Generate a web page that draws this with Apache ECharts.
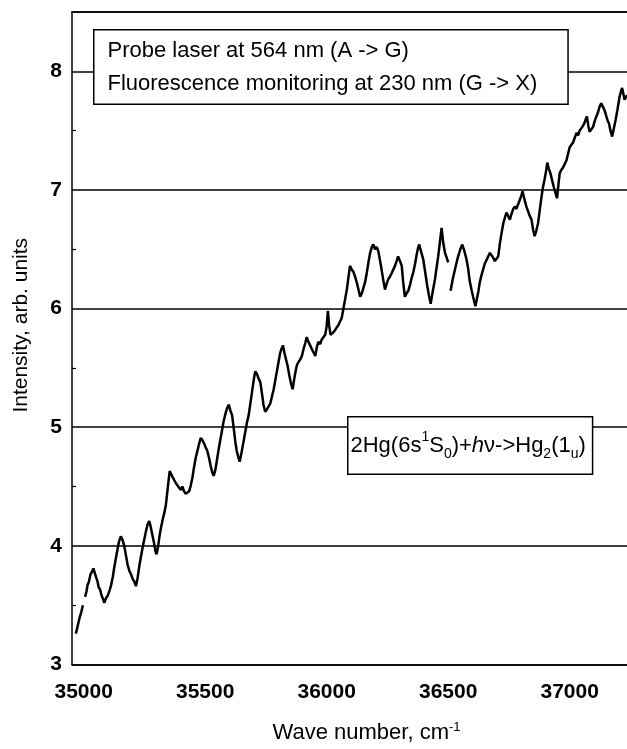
<!DOCTYPE html>
<html>
<head>
<meta charset="utf-8">
<script src="https://cdn.jsdelivr.net/npm/echarts@6/dist/echarts.min.js"></script>
<style>html,body{margin:0;padding:0;background:#fff}#c{width:627px;height:749px}</style>
</head>
<body>
<div id="c"></div>
<script>
// Wave number (cm^-1); null breaks the trace
const waveNumbers = [
34968,34976,34984,34990,34997,35002,
35006,35012,35016,35022,35028,35034,35040,35046,35052,35057,35062,35068,35074,35080,35085,35092,35099,35106,35112,35120,35126,35133,35140,35146,35153,35160,35167,35174,35181,35188,35195,35202,35208,35215,35222,35229,35235,35242,35249,35256,35263,35270,35276,35283,35290,35296,35300,35306,35312,35318,35325,35332,35338,35344,35350,35354,35360,35366,35372,35379,35386,35393,35400,35406,35413,35420,35427,35434,35441,35448,35454,35461,35468,35475,35482,35489,35496,35502,35509,35516,35522,35529,35535,35542,35549,35556,35563,35570,35576,35583,35590,35597,35604,35611,35617,35624,35630,35636,35642,35650,35658,35665,35672,35679,35686,35693,35700,35706,35713,35720,35727,35734,35740,35747,35754,35761,35768,35775,35782,35789,35796,35802,35808,35814,35820,35826,35833,35839,35846,35853,35860,35866,35872,35877,35884,35891,35898,35905,35912,35918,35925,35932,35939,35946,35953,35960,35966,35973,35980,35987,35994,36000,36005,36010,36016,36021,36028,36035,36041,36048,36055,36062,36069,36076,36083,36090,36096,36103,36110,36117,36124,36131,36138,36145,36152,36158,36165,36172,36179,36186,36192,36199,36206,36213,36220,36226,36233,36240,36247,36254,36261,36268,36274,36281,36288,36294,36302,36309,36315,36322,36329,36336,36343,36350,36357,36364,36370,36376,36381,36390,36398,36406,36414,36421,36428,36437,36446,36452,36459,36466,36473,36480,36487,36494,36500,36505,
36510,36519,36528,36535,36541,36550,36558,36566,36575,36582,36589,36597,36606,36612,36616,36624,36630,36637,36644,36651,36658,36665,36672,36678,36685,36692,36699,36706,36713,36720,36727,36734,36740,36747,36754,36761,36768,36774,36781,36788,36795,36801,36806,36814,36822,36829,36836,36843,36850,36856,36863,36870,36877,36884,36890,36897,36903,36908,36914,36921,36928,36934,36941,36948,36954,36959,36966,36973,36980,36987,36994,37000,37007,37014,37021,37028,37035,37041,37048,37055,37062,37067,37071,37077,37082,37089,37096,37103,37110,37116,37123,37130,37137,37144,37151,37157,37162,37168,37175,37182,37189,37197,37205,37211,37216,37221,37226,37231,37236
];
// Intensity, arb. units
const intensity = [
3.26,3.33,3.40,3.44,3.50,null,
3.57,3.62,3.67,3.70,3.76,3.78,3.81,3.77,3.73,3.70,3.65,3.63,3.58,3.55,3.52,3.56,3.58,3.62,3.66,3.74,3.82,3.90,3.98,4.04,4.08,4.05,4.00,3.92,3.84,3.79,3.76,3.72,3.70,3.66,3.73,3.83,3.90,3.98,4.05,4.12,4.18,4.21,4.16,4.09,4.02,3.95,3.93,3.99,4.08,4.15,4.22,4.28,4.34,4.45,4.56,4.63,4.62,4.58,4.57,4.53,4.51,4.49,4.47,4.50,4.46,4.44,4.43,4.46,4.51,4.58,4.66,4.74,4.80,4.86,4.91,4.89,4.86,4.83,4.80,4.74,4.68,4.62,4.59,4.64,4.73,4.82,4.90,4.98,5.05,5.11,5.16,5.19,5.14,5.10,5.00,4.88,4.80,4.75,4.71,4.79,4.88,4.96,5.04,5.10,5.20,5.30,5.40,5.47,5.45,5.41,5.38,5.28,5.19,5.13,5.15,5.16,5.20,5.26,5.32,5.40,5.48,5.55,5.62,5.66,5.69,5.63,5.57,5.52,5.44,5.37,5.32,5.40,5.47,5.52,5.55,5.57,5.60,5.66,5.71,5.76,5.72,5.69,5.66,5.63,5.60,5.68,5.72,5.70,5.74,5.74,5.78,5.85,5.98,5.86,5.78,5.77,5.80,5.82,5.84,5.86,5.85,5.92,6.00,6.08,6.16,6.27,6.36,6.33,6.31,6.27,6.22,6.16,6.10,6.13,6.18,6.22,6.30,6.39,6.47,6.52,6.54,6.50,6.52,6.48,6.40,6.33,6.24,6.16,6.21,6.25,6.27,6.30,6.31,6.36,6.40,6.44,6.40,6.36,6.22,6.10,6.13,6.15,6.20,6.26,6.31,6.38,6.45,6.51,6.54,6.47,6.41,6.30,6.19,6.11,6.04,6.15,6.25,6.34,6.44,6.56,6.68,6.55,6.47,6.43,6.39,null,
6.15,6.25,6.33,6.39,6.44,6.50,6.54,6.49,6.42,6.34,6.23,6.15,6.07,6.02,6.01,6.14,6.22,6.28,6.33,6.38,6.41,6.44,6.47,6.48,6.43,6.40,6.42,6.44,6.55,6.64,6.72,6.77,6.81,6.78,6.75,6.80,6.84,6.86,6.84,6.88,6.89,6.95,6.99,6.92,6.86,6.82,6.78,6.75,6.66,6.61,6.66,6.72,6.83,6.94,7.02,7.09,7.16,7.23,7.18,7.14,7.08,7.03,6.98,6.93,7.05,7.14,7.17,7.19,7.22,7.25,7.31,7.36,7.38,7.40,7.44,7.48,7.46,7.50,7.51,7.54,7.57,7.60,7.62,7.54,7.49,7.51,7.53,7.58,7.62,7.65,7.70,7.73,7.70,7.67,7.62,7.58,7.56,7.50,7.45,7.52,7.59,7.68,7.78,7.83,7.86,7.81,7.76,7.78,7.80
];
const xTicks = [35000, 35500, 36000, 36500, 37000];
const yTicks = [3, 4, 5, 6, 7, 8];
const noteLines = ['Probe laser at 564 nm (A -> G)', 'Fluorescence monitoring at 230 nm (G -> X)'];
const reactionText = '2Hg(6s{sup|1}S{sub|0})+{it|h}{b|ν->Hg}{sub|2}{b|(1}{sub|u}{b|)}';

const series = waveNumbers.map((w, i) => [w, intensity[i]]);
const FONT = 'Liberation Sans, Arial, sans-serif';

const chart = echarts.init(document.getElementById('c'), null, {renderer: 'canvas'});
chart.setOption({
  animation: false,
  backgroundColor: '#fff',
  grid: {left: 72, right: 0, top: 12, bottom: 82, containLabel: false},
  xAxis: [{
    type: 'value', min: 34952, max: 37236, position: 'bottom',
    axisLine: {show: true, lineStyle: {color: '#000', width: 1.5}},
    axisTick: {show: false},
    splitLine: {show: false},
    axisLabel: {
      color: '#000', fontFamily: FONT, fontSize: 21, fontWeight: 'bold', margin: 17,
      customValues: xTicks, formatter: v => String(v)
    },
    name: 'Wave number, cm{sup|-1}',
    nameLocation: 'middle', nameGap: 56,
    nameTextStyle: {color: '#000', fontFamily: FONT, fontSize: 22, padding: [0, 0, 0, 34],
      rich: {sup: {fontSize: 13, verticalAlign: 'top', fontFamily: FONT, color: '#000', padding: [0, 0, 12, 0]}}}
  }, {
    type: 'value', min: 34952, max: 37236, position: 'top',
    axisLine: {show: true, lineStyle: {color: '#000', width: 1.5}},
    axisTick: {show: false}, axisLabel: {show: false}, splitLine: {show: false}
  }],
  yAxis: {
    type: 'value', min: 3, max: 8.5, interval: 1,
    axisLine: {show: true, lineStyle: {color: '#000', width: 1.5}},
    axisTick: {show: false, inside: true},
    minorTick: {show: true, splitNumber: 2, length: 4, lineStyle: {color: '#000', width: 1.2}},
    splitLine: {show: true, lineStyle: {color: '#000', width: 1.5}},
    axisLabel: {
      color: '#000', fontFamily: FONT, fontSize: 21, fontWeight: 'bold', margin: 10,
      formatter: v => (yTicks.indexOf(v) >= 0 ? String(v) : '')
    },
    name: 'Intensity, arb. units',
    nameLocation: 'middle', nameGap: 40, nameRotate: 90,
    nameTextStyle: {color: '#000', fontFamily: FONT, fontSize: 21, padding: [0, 0, 0, 26]}
  },
  series: [{
    type: 'line', data: series, showSymbol: false, connectNulls: false,
    lineStyle: {color: '#000', width: 2.5}, z: 3
  }],
  graphic: [{
    type: 'text', left: 93, top: 29, z: 10,
    style: {
      text: noteLines.join('\n'), font: '22px ' + FONT, fill: '#000',
      lineHeight: 33, backgroundColor: '#fff', borderColor: '#000', borderWidth: 1.5,
      padding: [4, 30, 3, 13]
    }
  }, {
    type: 'text', left: 347, top: 416, z: 10,
    style: {
      text: reactionText, font: '22px ' + FONT, fill: '#000',
      backgroundColor: '#fff', borderColor: '#000', borderWidth: 1.5,
      padding: [13, 6, 12, 2], lineHeight: 31,
      rich: {
        sup: {fontSize: 14, fontFamily: FONT, fill: '#000', verticalAlign: 'top', lineHeight: 31},
        sub: {fontSize: 14, fontFamily: FONT, fill: '#000', verticalAlign: 'bottom', lineHeight: 31},
        it: {fontSize: 22, fontFamily: FONT, fontStyle: 'italic', fill: '#000', lineHeight: 31},
        b: {fontSize: 22, fontFamily: FONT, fill: '#000', lineHeight: 31}
      }
    }
  }]
});
</script>
</body>
</html>
